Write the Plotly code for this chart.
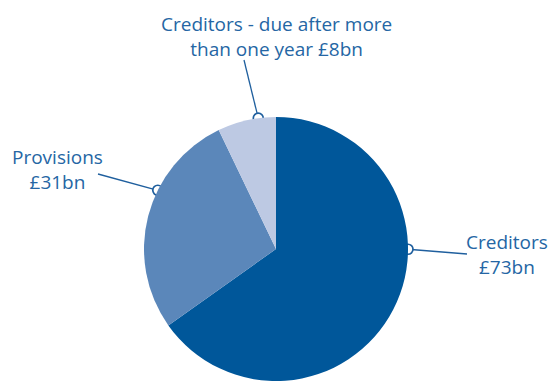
import math
import plotly.graph_objects as go

# Balance sheet liabilities, £bn
categories = ["Creditors", "Provisions", "Creditors - due after more than one year"]
values = [73, 31, 8]
label_lines = [["Creditors", "£73bn"], ["Provisions", "£31bn"],
               ["Creditors - due after more", "than one year £8bn"]]
colors = ["#00579a", "#5b87ba", "#bdc9e3"]

W, H = 550, 383
CX, CY, R = 276, 249, 132          # pie centre and radius in pixels
TEXT = "#2566a4"
FONT = "Open Sans"

# where along each slice the leader line touches the rim (fraction of slice)
anchor_frac = [0.384, 0.62, 0.70]
# label text centre (px) and where the leader line ends near the label
label_pos = [(507, 254), (57, 169), (276, 36)]
leader_end = [(467, 254), (98, 174), (244, 60)]

fig = go.Figure()
fig.add_trace(go.Pie(
    labels=categories, values=values, sort=False, direction="clockwise",
    rotation=0, marker=dict(colors=colors, line=dict(width=0)),
    textinfo="none", hoverinfo="label+value", showlegend=False,
    domain=dict(x=[(CX - R) / W, (CX + R) / W],
                y=[(H - CY - R) / H, (H - CY + R) / H]),
))

total = sum(values)
start = 0.0
for i, v in enumerate(values):
    ang = (start + anchor_frac[i] * v) / total * 2 * math.pi
    start += v
    ex, ey = CX + R * math.sin(ang), CY - R * math.cos(ang)
    lx, ly = leader_end[i]
    fig.add_trace(go.Scatter(x=[lx, ex], y=[ly, ey], mode="lines",
                             line=dict(color="#1f5f9e", width=1.3),
                             hoverinfo="skip", showlegend=False))
    fig.add_trace(go.Scatter(x=[ex], y=[ey], mode="markers",
                             marker=dict(size=10, color="white",
                                         line=dict(color="#1f5f9e", width=1.7)),
                             hoverinfo="skip", showlegend=False))
    tx, ty = label_pos[i]
    fig.add_annotation(x=tx, y=ty, xref="x", yref="y",
                       text="<br>".join(label_lines[i]), showarrow=False,
                       font=dict(family=FONT, size=19, color=TEXT),
                       align="center")

fig.update_layout(
    width=W, height=H, margin=dict(l=0, r=0, t=0, b=0),
    paper_bgcolor="white", plot_bgcolor="rgba(0,0,0,0)",
    xaxis=dict(range=[0, W], visible=False, fixedrange=True),
    yaxis=dict(range=[H, 0], visible=False, fixedrange=True),
)
fig.write_html("out.html")
